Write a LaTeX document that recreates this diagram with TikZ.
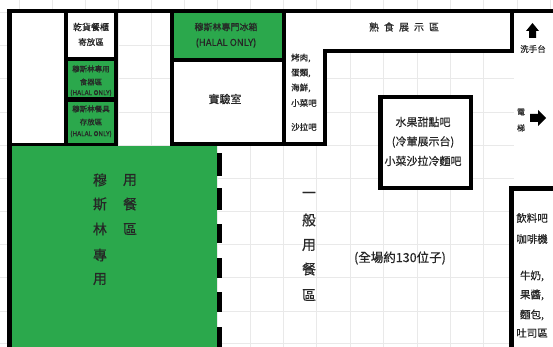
\documentclass[tikz,border=0pt]{standalone}
\usepackage{fontspec}
\setmainfont[RawFeature={embolden=0.5}]{Noto Sans CJK TC}
\definecolor{halal}{HTML}{2BA84C}
\definecolor{gridc}{HTML}{E9E9E9}
\newcommand{\fsz}[1]{\fontsize{#1}{#1}\selectfont}
\tikzset{
  wall/.style={fill=black,draw=none},
  greenzone/.style={fill=halal,draw=none},
  lbl/.style={inner sep=0pt,anchor=center,text=black!85,font=\fsz{#1}},
  lbl/.default=9,
  gridline/.style={draw=gridc,line width=0.8pt}
}
\begin{document}
\begin{tikzpicture}[x=1pt,y=-1pt]
\useasboundingbox (0,0) rectangle (553,347);
\fill[white] (0,0) rectangle (553,347);
% sheet grid
\foreach \gx in {19,52,85,118,151,184,217,250,283,316,350,383,417,450,483,517,550}
  \draw[gridline] (\gx,0) -- (\gx,347);
\foreach \gy in {12,45,78,112,145,178,211,244,277,311,343}
  \draw[gridline] (0,\gy) -- (553,\gy);
% white rooms
\fill[white] (11,13) rectangle (64,143);
\fill[white] (68,13) rectangle (114,58);
\fill[white] (174,62) rectangle (282,142);
\fill[white] (286,13) rectangle (510,49);
\fill[white] (286,49) rectangle (323,142);
\fill[white] (383,99) rectangle (469,186);
\fill[white] (514,191) rectangle (553,347);
\fill[white] (514,13) rectangle (553,187);
% green zones
\fill[greenzone] (68,61) rectangle (114,97);
\fill[greenzone] (68,102) rectangle (114,143);
\fill[greenzone] (174,13) rectangle (282,58);
\fill[greenzone] (11,146) rectangle (217,347);
% walls
\fill[wall] (7,9) rectangle (553,13);
\fill[wall] (7,9) rectangle (12,347);
\fill[wall] (64,13) rectangle (68,146);
\fill[wall] (114,13) rectangle (118,146);
\fill[wall] (170,9) rectangle (174,146);
\fill[wall] (282,9) rectangle (286,146);
\fill[wall] (7,143) rectangle (118,146);
\fill[wall] (170,142) rectangle (327,146);
\fill[wall] (170,58) rectangle (286,62);
\fill[wall] (68,57) rectangle (114,61);
\fill[wall] (68,97) rectangle (114,102);
\fill[wall] (323,49) rectangle (327,146);
\fill[wall] (323,49) rectangle (514,53);
\fill[wall] (510,9) rectangle (514,53);
\fill[wall] (378,95) rectangle (473,99);
\fill[wall] (378,186) rectangle (473,190);
\fill[wall] (378,95) rectangle (383,190);
\fill[wall] (469,95) rectangle (473,190);
\fill[wall] (509,186) rectangle (553,191);
\fill[wall] (509,186) rectangle (514,347);
% dashed partition
\fill[wall] (217,153) rectangle (222,176);
\fill[wall] (217,188) rectangle (222,210);
\fill[wall] (217,224) rectangle (222,243);
\fill[wall] (217,258) rectangle (222,278);
\fill[wall] (217,292) rectangle (222,312);
\fill[wall] (217,327) rectangle (222,347);
% arrows
\fill[black] (532.5,23) -- (539,31) -- (536,31) -- (536,38) -- (529,38) -- (529,31) -- (526,31) -- cycle;
\fill[black] (546,118) -- (538,126) -- (538,122) -- (530,122) -- (530,114) -- (538,114) -- (538,110) -- cycle;
% labels
\node[lbl=9] (cabA) at (91,27) {乾貨餐櫃};
\node[lbl=8.5] (cabB) at (91,42) {寄放區};
\node[lbl=7.5] (g1a) at (91,69) {穆斯林專用};
\node[lbl=7.5] (g1b) at (91,82) {食器區};
\node[lbl=6.5] (g1c) at (91,93) {(HALAL ONLY)};
\node[lbl=7.5] (g2a) at (91,109) {穆斯林餐具};
\node[lbl=7.5] (g2b) at (91,122) {存放區};
\node[lbl=6.5] (g2c) at (91,134) {(HALAL ONLY)};
\node[lbl=9] (frA) at (226,27) {穆斯林專門冰箱};
\node[lbl=9.5] (frB) at (226,43) {(HALAL ONLY)};
\node[lbl=11] (lab) at (225,99) {實驗室};
\node[lbl=8.5,anchor=west] (m1) at (291,58) {烤肉,};
\node[lbl=8.5,anchor=west] (m2) at (291,73) {蛋類,};
\node[lbl=8.5,anchor=west] (m3) at (291,88) {海鮮,};
\node[lbl=8.5,anchor=west] (m4) at (291,103) {小菜吧};
\node[lbl=8.5,anchor=west] (m5) at (291,127) {沙拉吧};
\node[lbl=10] (disp) at (404,27) {熟\hspace{5pt}食\hspace{5pt}展\hspace{5pt}示\hspace{5pt}區};
\node[lbl=8.5] (wash) at (533,49) {洗手台};
\node[lbl=8] (el1) at (521,112) {電};
\node[lbl=8] (el2) at (521,128) {梯};
\node[lbl=11] (fa) at (423,122) {水果甜點吧};
\node[lbl=11] (fb) at (423,142) {(冷葷展示台)};
\node[lbl=11] (fc) at (423,161) {小菜沙拉冷麵吧};
\node[lbl=14] (v1) at (100,180) {穆};
\node[lbl=14] (v2) at (100,204) {斯};
\node[lbl=14] (v3) at (100,229) {林};
\node[lbl=14] (v4) at (100,255) {專};
\node[lbl=14] (v5) at (100,279) {用};
\node[lbl=14] (w1) at (130,180) {用};
\node[lbl=14] (w2) at (130,204) {餐};
\node[lbl=14] (w3) at (130,229) {區};
\node[lbl=14] (x1) at (309,195) {一};
\node[lbl=14] (x2) at (309,220) {般};
\node[lbl=14] (x3) at (309,245) {用};
\node[lbl=14] (x4) at (309,269) {餐};
\node[lbl=14] (x5) at (309,295) {區};
\node[lbl=12.5] (seats) at (400,258) {(全場約130位子)};
\node[lbl=10.5] (d1) at (532,218) {飲料吧};
\node[lbl=10.5] (d2) at (532,239) {咖啡機};
\node[lbl=10.5] (d3) at (532,276) {牛奶,};
\node[lbl=10.5] (d4) at (532,295) {果醬,};
\node[lbl=10.5] (d5) at (532,315) {麵包,};
\node[lbl=10.5] (d6) at (532,333) {吐司區};
\end{tikzpicture}
\end{document}
